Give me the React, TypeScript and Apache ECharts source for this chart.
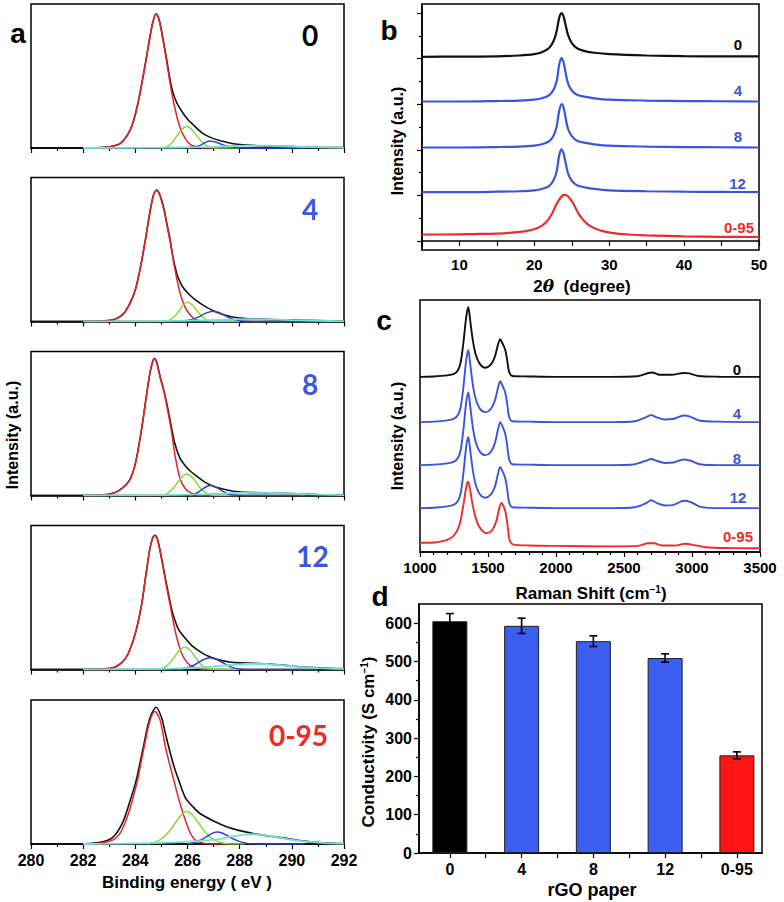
import React, { useEffect, useRef } from "react";
import * as echarts from "echarts";

type P = [number, number][];

// ---------------- Panel a : XPS C1s fits (binding energy eV, normalised intensity) ----------------
const xpsSamples = ["0", "4", "8", "12", "0-95"];
const xpsTicks = [280, 282, 284, 286, 288, 290, 292];

const xpsBlack0: P = [[280,0],[281,0],[282,0.001],[282.8,0.005],[283.2,0.016],[283.45,0.036],[283.7,0.091],[283.9,0.171],[284.1,0.311],[284.25,0.451],[284.4,0.601],[284.55,0.761],[284.68,0.881],[284.8,0.932],[284.92,0.885],[285.05,0.77],[285.2,0.615],[285.35,0.455],[285.45,0.38],[285.6,0.31],[285.8,0.25],[286.0,0.2],[286.2,0.165],[286.4,0.13],[286.6,0.1],[286.9,0.072],[287.3,0.048],[287.75,0.03],[288.3,0.02],[289,0.015],[290,0.01],[291,0.005],[292,0.003]];
const xpsRed0: P = [[282,0],[282.8,0.004],[283.2,0.015],[283.45,0.035],[283.7,0.09],[283.9,0.17],[284.1,0.31],[284.25,0.45],[284.4,0.6],[284.55,0.76],[284.68,0.88],[284.8,0.93],[284.92,0.88],[285.05,0.76],[285.2,0.6],[285.35,0.43],[285.5,0.29],[285.7,0.15],[285.9,0.07],[286.1,0.025],[286.35,0.007],[286.7,0],[287.2,0]];
const xpsGreen0: P = [[285,0],[285.2,0.008],[285.4,0.035],[285.54,0.07],[285.7,0.11],[285.85,0.14],[285.97,0.149],[286.1,0.14],[286.25,0.11],[286.42,0.07],[286.6,0.035],[286.8,0.01],[287,0.002],[287.5,0],[288,0]];
const xpsBlue0: P = [[286,0],[286.3,0.008],[286.5,0.02],[286.7,0.04],[286.85,0.049],[287.0,0.045],[287.2,0.033],[287.4,0.02],[287.7,0.007],[288,0.002],[289,0],[290.5,0]];
const xpsCyan0: P = [[282,0],[285,0.002],[286.5,0.006],[287.5,0.012],[288.3,0.017],[289,0.016],[290,0.01],[291,0.004],[292,0.001]];

const xpsBlack1: P = [[280,0],[281,0],[282,0.001],[282.8,0.005],[283.2,0.016],[283.5,0.046],[283.75,0.111],[284.0,0.221],[284.2,0.381],[284.38,0.561],[284.55,0.751],[284.7,0.881],[284.82,0.912],[284.95,0.875],[285.1,0.78],[285.22,0.67],[285.33,0.57],[285.45,0.44],[285.55,0.36],[285.65,0.3],[285.8,0.245],[286.0,0.2],[286.3,0.15],[286.72,0.1],[287.1,0.066],[287.49,0.042],[288,0.024],[289,0.015],[290,0.01],[291,0.006],[292,0.003]];
const xpsRed1: P = [[282,0],[282.8,0.004],[283.2,0.015],[283.5,0.045],[283.75,0.11],[284.0,0.22],[284.2,0.38],[284.38,0.56],[284.55,0.75],[284.7,0.88],[284.82,0.91],[284.95,0.87],[285.1,0.77],[285.22,0.66],[285.33,0.56],[285.5,0.38],[285.69,0.215],[285.88,0.11],[286.08,0.05],[286.3,0.015],[286.6,0.003],[287,0],[287.2,0]];
const xpsGreen1: P = [[285.1,0],[285.3,0.01],[285.5,0.035],[285.7,0.08],[285.85,0.118],[286.0,0.134],[286.15,0.12],[286.3,0.09],[286.5,0.045],[286.7,0.015],[286.97,0.002],[287.5,0],[288,0]];
const xpsBlue1: P = [[285.7,0],[286.1,0.01],[286.4,0.03],[286.7,0.058],[286.97,0.072],[287.2,0.062],[287.45,0.04],[287.7,0.018],[288,0.005],[288.5,0],[291,0]];
const xpsCyan1: P = [[282,0],[285,0.003],[286.5,0.007],[287.5,0.012],[288.3,0.016],[289,0.015],[290,0.01],[291,0.005],[292,0.002]];

const xpsBlack2: P = [[280,0],[281,0],[282,0.001],[282.8,0.005],[283.22,0.021],[283.5,0.051],[283.79,0.111],[284.0,0.221],[284.24,0.461],[284.4,0.661],[284.55,0.841],[284.65,0.921],[284.72,0.951],[284.82,0.925],[284.95,0.825],[285.1,0.725],[285.25,0.6],[285.39,0.47],[285.5,0.37],[285.71,0.26],[285.9,0.21],[286.1,0.17],[286.35,0.135],[286.65,0.095],[286.98,0.065],[287.35,0.045],[287.75,0.03],[288.3,0.022],[289,0.018],[290,0.013],[291,0.007],[292,0.003]];
const xpsRed2: P = [[282,0],[282.8,0.004],[283.22,0.02],[283.5,0.05],[283.79,0.11],[284.0,0.22],[284.24,0.46],[284.4,0.66],[284.55,0.84],[284.65,0.92],[284.72,0.95],[284.82,0.92],[284.95,0.82],[285.1,0.72],[285.25,0.58],[285.39,0.44],[285.55,0.25],[285.71,0.12],[285.9,0.05],[286.1,0.02],[286.4,0.004],[286.8,0],[287.2,0]];
const xpsGreen2: P = [[284.94,0],[285.2,0.01],[285.45,0.05],[285.7,0.11],[285.85,0.14],[285.97,0.147],[286.1,0.14],[286.3,0.1],[286.5,0.05],[286.75,0.015],[286.98,0.002],[287.5,0],[288,0]];
const xpsBlue2: P = [[286.09,0],[286.3,0.012],[286.55,0.04],[286.75,0.064],[286.88,0.07],[287.05,0.062],[287.3,0.035],[287.55,0.012],[287.74,0.003],[288.2,0],[290.5,0]];
const xpsCyan2: P = [[282,0],[285,0.003],[286.5,0.008],[287.5,0.015],[288.3,0.02],[289,0.019],[290,0.012],[291,0.006],[292,0.002]];

const xpsBlack3: P = [[280,0],[281,0],[282,0.001],[282.8,0.005],[283.2,0.016],[283.5,0.051],[283.73,0.111],[284.0,0.251],[284.24,0.451],[284.4,0.651],[284.55,0.831],[284.66,0.911],[284.75,0.932],[284.85,0.905],[285.0,0.78],[285.15,0.635],[285.33,0.47],[285.45,0.38],[285.65,0.28],[285.9,0.22],[286.2,0.16],[286.6,0.11],[286.9,0.085],[287.24,0.065],[287.6,0.052],[288.0,0.046],[288.6,0.043],[289.2,0.037],[290,0.024],[291,0.011],[292,0.004]];
const xpsRed3: P = [[282,0],[282.8,0.004],[283.2,0.015],[283.5,0.05],[283.73,0.11],[284.0,0.25],[284.24,0.45],[284.4,0.65],[284.55,0.83],[284.66,0.91],[284.75,0.93],[284.85,0.9],[285.0,0.77],[285.15,0.62],[285.33,0.45],[285.55,0.25],[285.78,0.11],[286.0,0.045],[286.2,0.02],[286.5,0.004],[287,0]];
const xpsGreen3: P = [[284.8,0],[285.1,0.012],[285.4,0.06],[285.65,0.125],[285.9,0.154],[286.1,0.135],[286.3,0.085],[286.55,0.03],[286.85,0.003],[287.5,0],[288,0]];
const xpsBlue3: P = [[285.6,0],[286.0,0.012],[286.3,0.035],[286.6,0.068],[286.85,0.082],[287.1,0.07],[287.4,0.042],[287.7,0.015],[288.0,0.003],[288.5,0],[291,0]];
const xpsCyan3: P = [[282,0],[284,0.002],[285.5,0.006],[286.5,0.014],[287.5,0.03],[288.6,0.04],[289.5,0.032],[290.3,0.018],[291,0.009],[292,0.003]];

const xpsBlack4: P = [[280,0],[281,0],[282,0.002],[282.6,0.01],[283.05,0.035],[283.3,0.08],[283.55,0.164],[283.8,0.3],[284.03,0.44],[284.3,0.667],[284.55,0.87],[284.8,0.95],[285.0,0.88],[285.15,0.77],[285.29,0.667],[285.48,0.54],[285.67,0.44],[285.92,0.32],[286.2,0.26],[286.49,0.21],[287.0,0.16],[287.5,0.12],[288.0,0.093],[288.52,0.073],[289.1,0.055],[289.79,0.039],[290.4,0.022],[291.05,0.01],[291.6,0.005],[292,0.003]];
const xpsRed4: P = [[282,0],[282.6,0.006],[283.13,0.027],[283.4,0.07],[283.64,0.164],[283.85,0.28],[284.08,0.44],[284.2,0.55],[284.33,0.667],[284.55,0.85],[284.75,0.92],[284.95,0.86],[285.16,0.667],[285.32,0.55],[285.48,0.44],[285.7,0.29],[285.92,0.164],[286.1,0.08],[286.3,0.027],[286.6,0.006],[287,0],[287.5,0]];
const xpsGreen4: P = [[284.46,0],[284.8,0.015],[285.1,0.05],[285.41,0.113],[285.7,0.19],[285.98,0.226],[286.25,0.19],[286.55,0.113],[286.85,0.05],[287.2,0.015],[287.63,0],[288.2,0]];
const xpsBlue4: P = [[285.98,0],[286.3,0.012],[286.6,0.035],[286.9,0.07],[287.12,0.084],[287.35,0.075],[287.65,0.045],[287.95,0.02],[288.25,0.006],[288.52,0],[290.5,0]];
const xpsCyan4: P = [[282,0],[283.5,0.002],[285,0.008],[286,0.016],[287.12,0.032],[287.8,0.055],[288.52,0.068],[289.2,0.055],[289.9,0.032],[290.5,0.018],[291,0.01],[291.5,0.004],[292,0.002]];

const xpsBlack = [xpsBlack0, xpsBlack1, xpsBlack2, xpsBlack3, xpsBlack4];
const xpsRed = [xpsRed0, xpsRed1, xpsRed2, xpsRed3, xpsRed4];
const xpsGreen = [xpsGreen0, xpsGreen1, xpsGreen2, xpsGreen3, xpsGreen4];
const xpsBlue = [xpsBlue0, xpsBlue1, xpsBlue2, xpsBlue3, xpsBlue4];
const xpsCyan = [xpsCyan0, xpsCyan1, xpsCyan2, xpsCyan3, xpsCyan4];

// ---------------- Panel b : XRD (2theta, stacked intensity a.u.) ----------------
const xrdTicks = [10, 20, 30, 40, 50];
const xrd0: P = [[5,4.04],[10,4.045],[15,4.05],[18,4.07],[20,4.1],[21,4.14],[22,4.24],[22.6,4.4],[23.0,4.62],[23.3,4.88],[23.6,5.0],[23.9,4.93],[24.2,4.72],[24.5,4.52],[25,4.34],[25.7,4.23],[26.9,4.16],[28,4.13],[30,4.1],[35,4.07],[40,4.055],[45,4.05],[50,4.05]];
const xrd4: P = [[5,3.06],[10,3.06],[15,3.07],[18,3.08],[20,3.1],[21,3.13],[22,3.2],[22.6,3.33],[23.0,3.52],[23.3,3.85],[23.6,4.01],[23.9,3.92],[24.2,3.67],[24.5,3.46],[25,3.3],[25.7,3.21],[26.9,3.16],[28,3.13],[30,3.1],[35,3.08],[40,3.07],[45,3.065],[50,3.06]];
const xrd8: P = [[5,2.05],[10,2.05],[15,2.06],[18,2.07],[20,2.09],[21,2.12],[22,2.19],[22.6,2.32],[23.0,2.52],[23.3,2.84],[23.65,3.0],[23.95,2.9],[24.2,2.68],[24.5,2.46],[25,2.3],[25.7,2.2],[26.9,2.15],[28,2.12],[30,2.09],[35,2.07],[40,2.06],[45,2.055],[50,2.05]];
const xrd12: P = [[5,1.07],[10,1.07],[15,1.08],[18,1.09],[20,1.11],[21,1.14],[22,1.21],[22.6,1.34],[23.0,1.54],[23.3,1.86],[23.6,2.01],[23.9,1.92],[24.2,1.7],[24.5,1.48],[25,1.32],[25.7,1.22],[26.9,1.17],[28,1.14],[30,1.11],[35,1.09],[40,1.08],[45,1.075],[50,1.07]];
const xrd095: P = [[5,0.14],[8,0.14],[12,0.15],[15,0.16],[17,0.18],[19,0.22],[20.5,0.29],[21.5,0.4],[22.3,0.58],[23,0.82],[23.6,0.97],[24.0,1.01],[24.5,0.98],[25.2,0.82],[26,0.57],[27,0.38],[28,0.28],[29,0.22],[30.5,0.17],[32.5,0.14],[35,0.12],[40,0.1],[45,0.09],[50,0.085]];

// ---------------- Panel c : Raman (shift cm-1, stacked intensity a.u.) ----------------
const ramanTicks = [1000, 1500, 2000, 2500, 3000, 3500];
const raman0: P = [[1000,4.03],[1100,4.04],[1200,4.065],[1250,4.1],[1280,4.19],[1300,4.38],[1320,4.84],[1340,5.41],[1355,5.64],[1370,5.3],[1390,4.84],[1410,4.54],[1440,4.33],[1480,4.24],[1520,4.31],[1550,4.49],[1575,4.79],[1590,4.9],[1605,4.81],[1625,4.67],[1640,4.44],[1655,4.15],[1680,4.05],[1800,4.04],[2000,4.03],[2400,4.03],[2600,4.045],[2680,4.12],[2710,4.13],[2760,4.08],[2850,4.08],[2940,4.12],[2980,4.11],[3050,4.05],[3200,4.035],[3500,4.03]];
const raman4: P = [[1000,2.99],[1100,3.0],[1200,3.03],[1250,3.07],[1280,3.16],[1300,3.35],[1320,3.82],[1340,4.42],[1355,4.65],[1370,4.3],[1390,3.82],[1410,3.52],[1440,3.3],[1480,3.22],[1520,3.29],[1550,3.48],[1575,3.8],[1590,3.93],[1605,3.84],[1625,3.69],[1640,3.44],[1655,3.12],[1680,3.01],[1800,3.0],[2000,2.99],[2400,2.99],[2580,3.01],[2660,3.1],[2700,3.15],[2740,3.1],[2800,3.05],[2860,3.06],[2940,3.14],[2990,3.11],[3060,3.02],[3200,3.0],[3500,2.99]];
const raman8: P = [[1000,2.0],[1100,2.01],[1200,2.04],[1250,2.08],[1280,2.17],[1300,2.36],[1320,2.84],[1340,3.45],[1355,3.68],[1370,3.33],[1390,2.84],[1410,2.53],[1440,2.31],[1480,2.23],[1520,2.3],[1550,2.5],[1575,2.84],[1590,2.99],[1605,2.9],[1625,2.74],[1640,2.48],[1655,2.14],[1680,2.02],[1800,2.01],[2000,2.0],[2400,2.0],[2580,2.02],[2660,2.1],[2700,2.14],[2740,2.1],[2800,2.05],[2860,2.06],[2940,2.13],[2990,2.1],[3060,2.02],[3200,2.0],[3500,2.0]];
const raman12: P = [[1000,1.01],[1100,1.02],[1200,1.05],[1250,1.09],[1280,1.18],[1300,1.37],[1320,1.84],[1340,2.43],[1355,2.65],[1370,2.32],[1390,1.85],[1410,1.55],[1440,1.33],[1480,1.25],[1520,1.32],[1550,1.5],[1575,1.82],[1590,1.96],[1605,1.87],[1625,1.72],[1640,1.47],[1655,1.15],[1680,1.03],[1800,1.02],[2000,1.01],[2400,1.01],[2580,1.03],[2660,1.12],[2700,1.19],[2740,1.13],[2800,1.07],[2860,1.08],[2940,1.18],[2990,1.15],[3060,1.04],[3200,1.01],[3500,1.01]];
const raman095: P = [[1000,0.21],[1100,0.22],[1150,0.24],[1200,0.28],[1250,0.38],[1290,0.62],[1320,1.1],[1340,1.5],[1352,1.62],[1365,1.5],[1385,1.12],[1410,0.78],[1440,0.56],[1490,0.43],[1530,0.5],[1560,0.7],[1585,1.03],[1600,1.13],[1615,1.05],[1630,0.9],[1645,0.58],[1660,0.26],[1690,0.17],[1800,0.15],[2000,0.14],[2400,0.13],[2600,0.14],[2680,0.2],[2720,0.2],[2780,0.15],[2880,0.15],[2950,0.19],[3000,0.17],[3100,0.11],[3300,0.09],[3500,0.085]];

// ---------------- Panel d : conductivity bars ----------------
const condCategories = ["0", "4", "8", "12", "0-95"];
const condValues = [605, 593, 553, 509, 255];
const condErrors = [20, 20, 14, 11, 9];
const condYTicks = [0, 100, 200, 300, 400, 500, 600];

const FONT = "'Liberation Sans', Arial, Helvetica, sans-serif";
const BLACK = "#111111";
const BLUE = "#3a55dd";
const RED = "#ee2a2a";
const sampleColors = [BLACK, BLUE, BLUE, BLUE, RED];

function buildOption() {
  const grid: any[] = [];
  const xAxis: any[] = [];
  const yAxis: any[] = [];
  const series: any[] = [];
  const graphic: any[] = [];

  const boxGrid = (left: number, top: number, width: number, height: number) => ({
    left, top, width, height, show: true, borderColor: "#000", borderWidth: 1.5, backgroundColor: "transparent", containLabel: false,
  });
  const tickStyle = { color: "#000", width: 1.2 };
  const plain = (v: number) => String(v);
  const lab = (size: number) => ({ fontSize: size, fontWeight: "bold", color: "#000", fontFamily: FONT });

  const line = (xi: number, yi: number, data: P, color: string, width: number, z = 2) => ({
    type: "line", xAxisIndex: xi, yAxisIndex: yi, data, showSymbol: false, symbol: "none",
    smooth: 0.3, lineStyle: { color, width }, z, silent: true,
  });

  // ---- panel a
  const aTops = [4, 177.5, 351.5, 525.5, 700];
  aTops.forEach((top, i) => {
    grid.push(boxGrid(31, top, 313, 144));
    xAxis.push({
      gridIndex: i, type: "value", min: 280, max: 292, interval: 2,
      axisLine: { show: true, lineStyle: { color: "#000", width: 1.5 } },
      axisTick: { show: true, inside: false, length: 5, lineStyle: tickStyle },
      minorTick: { show: true, splitNumber: 2, length: 3, lineStyle: tickStyle },
      splitLine: { show: false }, minorSplitLine: { show: false },
      axisLabel: { show: i === 4, margin: 8, ...lab(16), customValues: xpsTicks, formatter: plain },
    });
    yAxis.push({ gridIndex: i, type: "value", min: 0, max: 1, show: false });
    series.push(line(i, i, xpsBlack[i], BLACK, 1.6, 2));
    series.push(line(i, i, xpsRed[i], "#e8232b", 1.5, 3));
    series.push(line(i, i, xpsGreen[i], "#7ddc3c", 1.5, 4));
    series.push(line(i, i, xpsBlue[i], "#3146d4", 1.5, 5));
    series.push(line(i, i, xpsCyan[i], "#6fe2d6", 1.8, 6));
  });

  // ---- panel b (grid 5)
  grid.push(boxGrid(422, 4, 337, 246));
  xAxis.push({
    gridIndex: 5, type: "value", min: 5, max: 50, interval: 5,
    axisLine: { show: true, lineStyle: { color: "#000", width: 1.5 } },
    axisTick: { show: true, inside: false, length: 5, lineStyle: tickStyle },
    splitLine: { show: false },
    axisLabel: { margin: 7, ...lab(15), customValues: xrdTicks, formatter: plain },
  });
  yAxis.push({
    gridIndex: 5, type: "value", min: -0.2, max: 5.2, position: "left", offset: 0,
    axisLine: { show: true, lineStyle: { color: "#000", width: 1.5 } },
    axisTick: { show: true, inside: false, length: 5, lineStyle: tickStyle, customValues: [0, 1, 2, 3, 4, 5] },
    axisLabel: { show: false }, splitLine: { show: false },
  });
  yAxis.push({
    gridIndex: 5, type: "value", min: -0.2, max: 5.2, position: "left", offset: 0,
    axisLine: { show: false },
    axisTick: { show: true, inside: false, length: 3, lineStyle: tickStyle, customValues: [0.5, 1.5, 2.5, 3.5, 4.5] },
    axisLabel: { show: false }, splitLine: { show: false },
  });
  [xrd0, xrd4, xrd8, xrd12, xrd095].forEach((d, k) => series.push(line(5, 5, d, sampleColors[k], 2.2)));

  // ---- panel c (grid 6)
  grid.push(boxGrid(420, 300, 340, 252));
  xAxis.push({
    gridIndex: 6, type: "value", min: 1000, max: 3500, interval: 500,
    axisLine: { show: true, lineStyle: { color: "#000", width: 1.5 } },
    axisTick: { show: true, inside: false, length: 5, lineStyle: tickStyle },
    minorTick: { show: true, splitNumber: 5, length: 3, lineStyle: tickStyle },
    splitLine: { show: false }, minorSplitLine: { show: false },
    axisLabel: { margin: 8, ...lab(15), customValues: ramanTicks, formatter: plain },
  });
  yAxis.push({ gridIndex: 6, type: "value", min: 0, max: 5.8, show: false });
  [raman0, raman4, raman8, raman12, raman095].forEach((d, k) => series.push(line(6, 7, d, sampleColors[k], 1.9)));

  // ---- panel d (grid 7)
  grid.push(boxGrid(419, 604, 343, 249));
  xAxis.push({
    gridIndex: 7, type: "value", min: 0.57, max: 5.35,
    axisLine: { show: true, lineStyle: { color: "#000", width: 1.5 } },
    axisTick: { show: true, inside: false, length: 5, lineStyle: tickStyle, customValues: [1, 1.5, 2, 2.5, 3, 3.5, 4, 4.5, 5] },
    splitLine: { show: false },
    axisLabel: { margin: 8, ...lab(16), customValues: [1, 2, 3, 4, 5], formatter: (v: number) => condCategories[Math.round(v) - 1] ?? "" },
  });
  yAxis.push({
    gridIndex: 7, type: "value", min: 0, max: 650, position: "left", offset: 0,
    axisLine: { show: true, lineStyle: { color: "#000", width: 1.5 } },
    axisTick: { show: true, inside: false, length: 5, lineStyle: tickStyle, customValues: condYTicks },
    axisLabel: { margin: 7, ...lab(16), customValues: condYTicks, formatter: plain },
    splitLine: { show: false },
  });
  yAxis.push({
    gridIndex: 7, type: "value", min: 0, max: 650, position: "left", offset: 0,
    axisLine: { show: false },
    axisTick: { show: true, inside: false, length: 3, lineStyle: tickStyle, customValues: [50, 150, 250, 350, 450, 550] },
    axisLabel: { show: false }, splitLine: { show: false },
  });
  const barColors = ["#000000", "#3b5df0", "#3b5df0", "#3b5df0", "#ff1414"];
  series.push({
    type: "bar", xAxisIndex: 7, yAxisIndex: 8, barWidth: 35, z: 2,
    data: condValues.map((v, k) => ({ value: [k + 1, v], itemStyle: { color: barColors[k], borderColor: "#222", borderWidth: 1 } })),
  });
  series.push({
    type: "custom", xAxisIndex: 7, yAxisIndex: 8, z: 5,
    encode: { x: 0, y: 1 },
    data: condValues.map((v, k) => [k + 1, v, condErrors[k]]),
    renderItem: (_p: any, api: any) => {
      const x = api.value(0), y = api.value(1), e = api.value(2);
      const t = api.coord([x, y + e]);
      const b = api.coord([x, y - e]);
      const st = { stroke: "#000", lineWidth: 1.6 };
      const hw = 4;
      return {
        type: "group",
        children: [
          { type: "line", shape: { x1: t[0], y1: t[1], x2: b[0], y2: b[1] }, style: st },
          { type: "line", shape: { x1: t[0] - hw, y1: t[1], x2: t[0] + hw, y2: t[1] }, style: st },
          { type: "line", shape: { x1: b[0] - hw, y1: b[1], x2: b[0] + hw, y2: b[1] }, style: st },
        ],
      };
    },
  });

  // ---- texts
  const txt = (text: string, x: number, y: number, size: number, color = "#000", extra: any = {}) => ({
    type: "text", x, y, rotation: extra.rotation || 0, z: 100,
    style: {
      text, fontSize: size, fontWeight: "bold", fontFamily: extra.family || FONT, fill: color,
      align: "center", verticalAlign: "middle", rich: extra.rich,
    },
  });
  // panel letters
  graphic.push(txt("a", 18, 33, 28));
  graphic.push(txt("b", 389, 30, 28));
  graphic.push(txt("c", 384, 320, 28));
  graphic.push(txt("d", 380, 596, 28));
  // panel a sample labels
  const aLabPos = [[310, 35], [310, 209], [310, 384], [312.5, 556], [298.5, 735]];
  xpsSamples.forEach((s, k) => graphic.push(txt(s, aLabPos[k][0], aLabPos[k][1], 28, k === 0 ? "#000" : k === 4 ? "#f0282a" : "#3b56e0", { family: "Lato, 'Open Sans', sans-serif" })));
  // panel b labels
  const bLabPos = [[738, 44], [738, 90], [738, 136], [737.5, 183], [739, 227]];
  xpsSamples.forEach((s, k) => graphic.push(txt(s, bLabPos[k][0], bLabPos[k][1], 15, sampleColors[k] === BLACK ? "#000" : sampleColors[k])));
  // panel c labels
  const cLabPos = [[737, 369], [737, 413], [737, 458], [738, 497], [738, 536]];
  xpsSamples.forEach((s, k) => graphic.push(txt(s, cLabPos[k][0], cLabPos[k][1], 15, sampleColors[k] === BLACK ? "#000" : sampleColors[k])));
  // axis titles
  graphic.push(txt("Intensity (a.u.)", 12.5, 435, 16, "#000", { rotation: Math.PI / 2 }));
  graphic.push(txt("Binding energy ( eV )", 187, 882, 17));
  graphic.push(txt("Intensity (a.u.)", 397, 141, 16, "#000", { rotation: Math.PI / 2 }));
  graphic.push(txt("2{i|θ}  (degree)", 582, 286, 17, "#000", {
    rich: { i: { fontStyle: "italic", fontFamily: "'DejaVu Serif', serif", fontSize: 17, fontWeight: "bold" } },
  }));
  graphic.push(txt("Intensity (a.u.)", 397, 436, 16, "#000", { rotation: Math.PI / 2 }));
  graphic.push(txt("Raman Shift (cm{s|−1})", 591, 593, 17, "#000", {
    rich: { s: { fontSize: 10, fontWeight: "bold", fontFamily: FONT, verticalAlign: "top", padding: [0, 0, 8, 0] } },
  }));
  graphic.push(txt("Conductivity (S cm{s|−1})", 368, 742, 17, "#000", {
    rotation: Math.PI / 2,
    rich: { s: { fontSize: 10, fontWeight: "bold", fontFamily: FONT, verticalAlign: "top", padding: [0, 0, 8, 0] } },
  }));
  graphic.push(txt("rGO paper", 592, 890, 18));

  return { animation: false, backgroundColor: "#fff", grid, xAxis, yAxis, series, graphic };
}

export default function App() {
  const ref = useRef<HTMLDivElement>(null);
  useEffect(() => {
    if (!ref.current) return;
    const chart = echarts.init(ref.current, null, { renderer: "svg" });
    chart.setOption(buildOption() as any);
    return () => chart.dispose();
  }, []);
  return (
    <div
      ref={ref}
      style={{ position: "fixed", left: 0, top: 0, width: 784, height: 902, background: "#fff" }}
    />
  );
}
